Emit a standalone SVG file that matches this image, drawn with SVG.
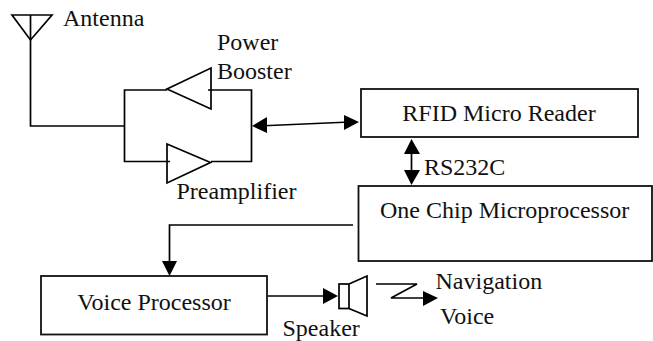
<svg xmlns="http://www.w3.org/2000/svg" width="653" height="341" viewBox="0 0 653 341">
<style>
text{font-family:"Liberation Serif","Times New Roman",serif;font-size:24px;fill:#111}
.l{fill:none;stroke:#000;stroke-width:1.7}
.b{fill:#fff;stroke:#111;stroke-width:1.8}
.h{fill:#000;stroke:none}
</style>
<rect width="653" height="341" fill="#fff"/>
<g id="connectors">
<path class="l" d="M30.500 40V126H124"/>
<path class="l" d="M167 90H124.500V161.500H170"/>
<path class="l" d="M208 90H251.500V161.500H211"/>
<path class="l" d="M258 126L350 122"/>
<polygon class="h" points="252,126 267,117 267,133"/>
<polygon class="h" points="359,122 344,115 344,130"/>
<path class="l" d="M411.500 150V175"/>
<polygon class="h" points="411.500,139 404,154 420,154"/>
<polygon class="h" points="411.500,185 404,170 420,170"/>
<path class="l" d="M353 225H169.500V265"/>
<polygon class="h" points="169.500,276 162,261 177,261"/>
<path class="l" d="M267 296H326"/>
<polygon class="h" points="338,296 323,288 323,304"/>
<path class="l" d="M376 284H417L391 298H425"/>
<polygon class="h" points="438,298 423,291 423,306"/>
</g>
<g id="antenna">
<path class="l" d="M12 15H52L30.500 40Z"/>
<path class="l" d="M30.500 15V40"/>
<text x="63" y="26">Antenna</text>
</g>
<g id="power-booster">
<path class="l" d="M211 68V109L167 89Z"/>
<text x="217" y="50">Power</text>
<text x="217" y="79">Booster</text>
</g>
<g id="preamplifier">
<path class="l" d="M167 144V183L210.500 162.500Z"/>
<text x="176.500" y="199">Preamplifier</text>
</g>
<g id="rfid-reader">
<rect class="b" x="361" y="89" width="277" height="48"/>
<text x="499" y="121" text-anchor="middle">RFID Micro Reader</text>
</g>
<text x="424" y="175">RS232C</text>
<g id="microprocessor">
<rect class="b" x="358.500" y="186" width="293.500" height="75"/>
<text x="380" y="218">One Chip Microprocessor</text>
</g>
<g id="voice-processor">
<rect class="b" x="41" y="276" width="226" height="58.500"/>
<text x="154" y="310" text-anchor="middle">Voice Processor</text>
</g>
<g id="speaker">
<rect class="l" x="339" y="284" width="10" height="24.500"/>
<path class="l" d="M349 284L367 276V316L349 308.500"/>
<text x="282.500" y="336">Speaker</text>
</g>
<text x="435.500" y="289">Navigation</text>
<text x="440" y="324">Voice</text>
</svg>
